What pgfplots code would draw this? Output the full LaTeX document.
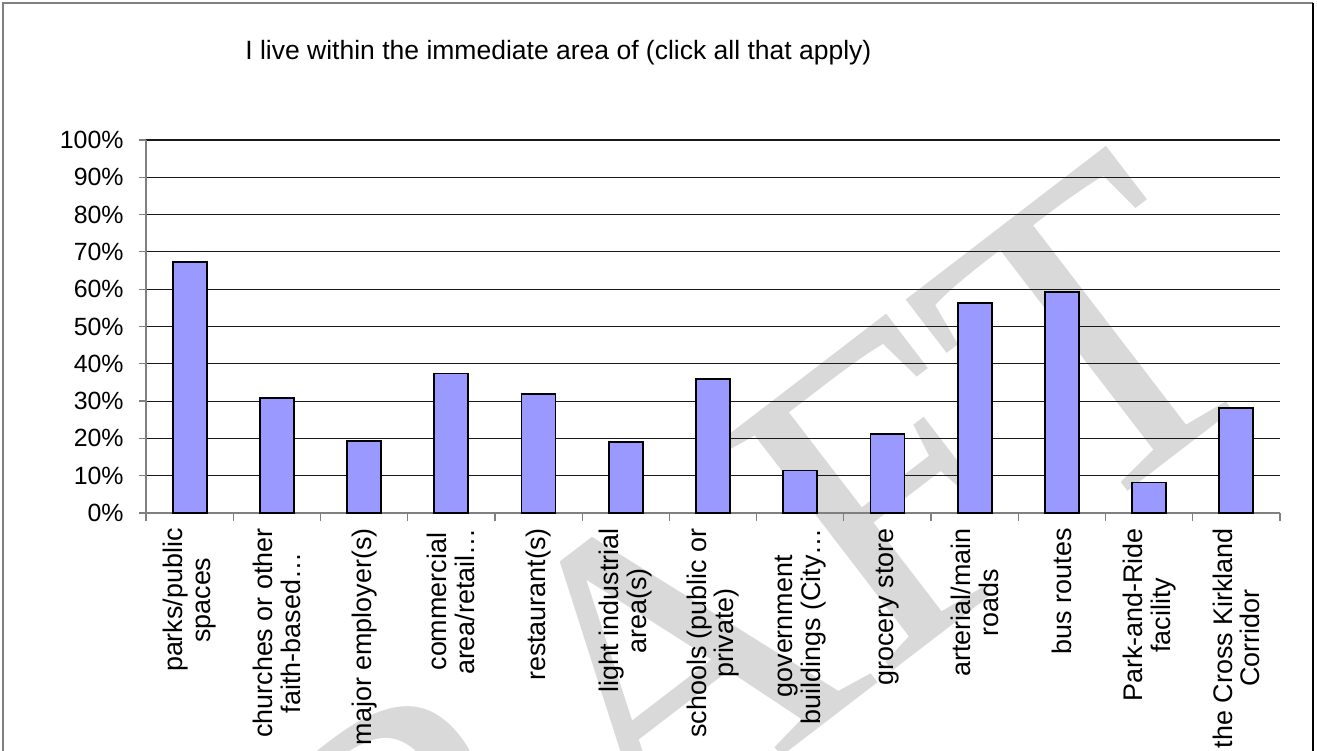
\documentclass[border=0pt]{standalone}
\usepackage{fontspec}
\setmainfont{Liberation Sans}
\newfontfamily\wmfont{Liberation Serif}
\usepackage{pgfplots}
\pgfplotsset{compat=1.18}
\definecolor{barblue}{HTML}{9999FF}
\definecolor{wmgray}{HTML}{D9D9D9}
\begin{document}
\begin{tikzpicture}
\useasboundingbox (0,0) rectangle (658.5bp,375.5bp);
\begin{scope}
\clip (0,0) rectangle (658.5bp,375.5bp);
\node[rotate=37.5, text=wmgray, inner sep=0pt, font=\wmfont\fontsize{220}{220}\selectfont] at (314.5bp,29.5bp) {DRAFT};
\end{scope}
\draw[gray, line width=1bp] (1.5bp,-5bp) -- (1.5bp,374bp) -- (656.5bp,374bp);
\draw[black, line width=1bp] (656.5bp,374bp) -- (656.5bp,-5bp);
\node[anchor=west, inner sep=0pt, font=\fontsize{13.3}{15}\selectfont] at (122.5bp,349bp) {I live within the immediate area of (click all that apply)};
\begin{axis}[
  at={(73bp,119bp)}, anchor=south west,
  scale only axis, width=567bp, height=186.5bp,
  xmin=0.5, xmax=13.5, ymin=0, ymax=100,
  axis x line*=bottom, axis y line*=left,
  axis line style={gray, line width=0.6bp},
  tick align=outside,
  xtick={1,...,13},
  minor xtick={0.5,1.5,...,13.5},
  minor tick length=4bp,
  major tick length=3.5bp,
  every tick/.style={gray, line width=0.6bp},
  major x tick style={draw=none},
  minor x tick style={draw=gray, line width=0.6bp},
  ytick={0,10,...,100},
  yticklabels={0\%,10\%,20\%,30\%,40\%,50\%,60\%,70\%,80\%,90\%,100\%},
  ymajorgrids, grid style={black!90, line width=0.55bp},
  xticklabels={{parks/public\\spaces},{churches or other\\faith-based…},{major employer(s)},{commercial\\area/retail…},{restaurant(s)},{light industrial\\area(s)},{schools (public or\\private)},{government\\buildings  (City…},{grocery store},{arterial/main\\roads},{bus routes},{Park-and-Ride\\facility},{the Cross Kirkland\\Corridor}},
  xticklabel style={rotate=90, anchor=east, align=center, inner xsep=4bp, inner ysep=0pt, font=\fontsize{13.5}{14}\selectfont},
  yticklabel style={anchor=east, inner xsep=7.5bp, inner ysep=0pt, font=\fontsize{12.5}{15}\selectfont},
  clip=false,
]
\addplot[ybar, bar width=17bp, fill=barblue, draw=black, line width=0.9bp] coordinates {
(1,67.2) (2,30.8) (3,19.3) (4,37.4) (5,31.8) (6,19.1) (7,35.9) (8,11.4) (9,21.2) (10,56.3) (11,59.2) (12,8.2) (13,28.2)};
\end{axis}
\end{tikzpicture}
\end{document}
